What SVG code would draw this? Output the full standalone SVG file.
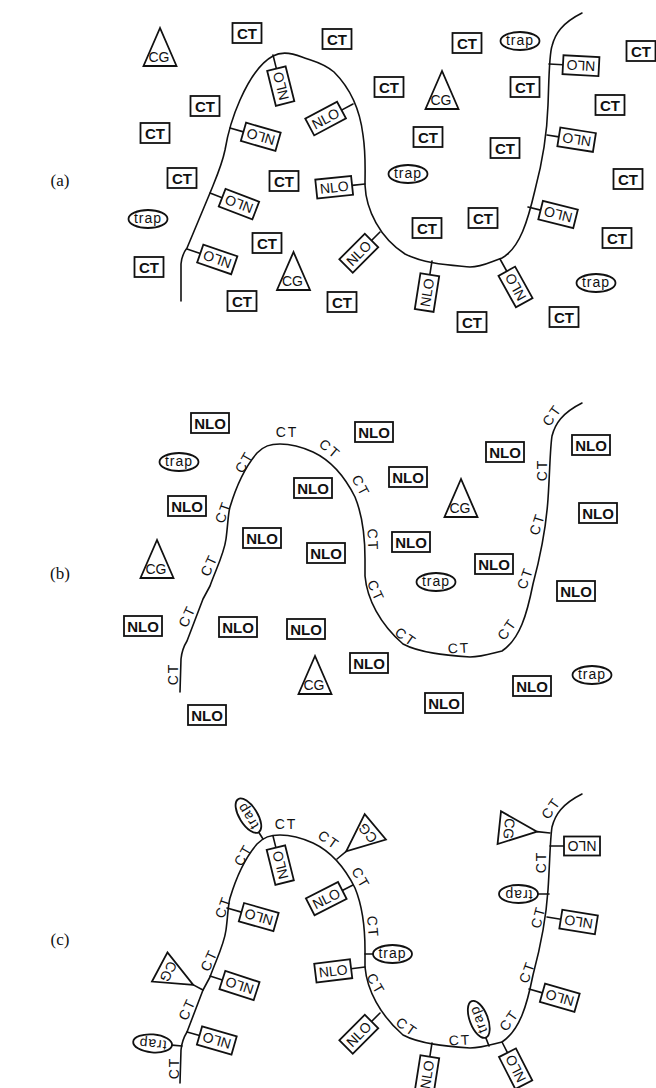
<svg xmlns="http://www.w3.org/2000/svg" width="656" height="1088" viewBox="0 0 656 1088">
<style>
.ln{fill:none;stroke:#111;stroke-width:1.6;stroke-linecap:round;stroke-linejoin:round}
.bx{fill:#fff;stroke:#111;stroke-width:1.8}
text{font-family:"Liberation Sans",Arial,sans-serif;text-anchor:middle;fill:#111}
.b15{font-size:15px;font-weight:bold}
.r14{font-size:14px}
.tr{font-size:14px;letter-spacing:1px}
.cl{font-size:14px;letter-spacing:2px}
.lb{font-family:"Liberation Serif","Times New Roman",serif;font-size:17px}
</style>
<defs>
<path id="chainA" d="M181,301 L181,264 Q182,254 187,248 L210,193 C216,178 222,165 225,150 C228,132 232,118 240,100 C248,82 258,64 273,56 C282,51 292,53 302,57 C312,61 322,62 334,72 C350,88 360,110 363,135 C366,155 365,170 365,185 C366,210 380,238 405,254 C425,264 450,265 470,267 C482,267 490,262 502,258 C520,248 528,220 535,190 C543,160 547,135 548,105 C549,80 549,55 552,46 C555,34 562,23 582,13"/>
<path id="chainC" d="M180,1083 L181,1050 Q182,1040 187,1032 L203,990 L210,977 C216,960 224,945 226,930 C228,915 228,905 230,898 C236,878 245,858 257,844 C264,837 270,835 280,835 C292,835 302,838 313,843 C330,851 345,868 355,888 C362,905 365,925 365,950 L365,967 C367,990 380,1015 403,1035 C420,1044 445,1046 470,1048 C482,1048 490,1045 502,1042 C520,1030 527,1005 533,975 C541,945 546,920 548,890 C550,860 550,840 552,827 C555,815 562,804 582,794"/>
</defs>
<rect width="656" height="1088" fill="#fff"/>

<g id="panel-labels">
<text class="lb" x="60" y="186">(a)</text>
<text class="lb" x="60" y="579">(b)</text>
<text class="lb" x="60" y="945">(c)</text>
</g>

<g id="connectors">
<use href="#chainA" class="ln"/>
<use href="#chainC" class="ln" transform="translate(0,-391)"/>
<use href="#chainC" class="ln"/>
<!-- stems (a) -->
<line class="ln" transform="translate(273,55) rotate(76)" x2="14"/>
<line class="ln" transform="translate(353,104) rotate(152)" x2="13"/>
<line class="ln" transform="translate(230,128) rotate(16)" x2="14"/>
<line class="ln" transform="translate(549,64) rotate(3)" x2="14"/>
<line class="ln" transform="translate(547,135) rotate(9)" x2="12"/>
<line class="ln" transform="translate(365,184) rotate(174)" x2="13"/>
<line class="ln" transform="translate(210,193) rotate(21)" x2="13"/>
<line class="ln" transform="translate(187,249) rotate(19)" x2="14"/>
<line class="ln" transform="translate(380,232) rotate(135)" x2="12"/>
<line class="ln" transform="translate(528,207) rotate(14)" x2="13"/>
<line class="ln" transform="translate(432,261) rotate(99)" x2="14"/>
<line class="ln" transform="translate(500,259) rotate(61)" x2="14"/>
<!-- stems (c) -->
<line class="ln" transform="translate(550,846) rotate(0)" x2="14"/>
<line class="ln" transform="translate(273,836) rotate(76)" x2="12"/>
<line class="ln" transform="translate(353,885) rotate(153)" x2="12"/>
<line class="ln" transform="translate(227,908) rotate(16)" x2="15"/>
<line class="ln" transform="translate(547,917) rotate(9)" x2="14"/>
<line class="ln" transform="translate(365,967) rotate(173)" x2="14"/>
<line class="ln" transform="translate(210,976) rotate(18)" x2="13"/>
<line class="ln" transform="translate(529,989) rotate(16)" x2="14"/>
<line class="ln" transform="translate(380,1013) rotate(135)" x2="12"/>
<line class="ln" transform="translate(187,1032) rotate(16)" x2="13"/>
<line class="ln" transform="translate(432,1043) rotate(99)" x2="14"/>
<line class="ln" transform="translate(502,1042) rotate(63)" x2="12"/>
<line class="ln" transform="translate(263,839) rotate(-122)" x2="8"/>
<line class="ln" transform="translate(489,1046) rotate(-111)" x2="9"/>
<line class="ln" transform="translate(549,894) rotate(180)" x2="11"/>
<line class="ln" transform="translate(365,954) rotate(0)" x2="8"/>
<line class="ln" transform="translate(182,1046) rotate(185)" x2="10"/>
<line class="ln" transform="translate(550,833) rotate(186)" x2="13"/>
<line class="ln" transform="translate(337,859) rotate(-40)" x2="12"/>
<line class="ln" transform="translate(203,990) rotate(208)" x2="11"/>
</g>

<!-- ===== panel (a) ===== -->
<g id="a-ct1" transform="translate(247,33)"><rect class="bx" x="-14.5" y="-10" width="29" height="20"/><text class="b15" y="5.5">CT</text></g>
<g id="a-ct2" transform="translate(337,39)"><rect class="bx" x="-14.5" y="-10" width="29" height="20"/><text class="b15" y="5.5">CT</text></g>
<g id="a-ct3" transform="translate(467,43)"><rect class="bx" x="-14.5" y="-10" width="29" height="20"/><text class="b15" y="5.5">CT</text></g>
<g id="a-ct4" transform="translate(641,51)"><rect class="bx" x="-14.5" y="-10" width="29" height="20"/><text class="b15" y="5.5">CT</text></g>
<g id="a-ct5" transform="translate(389,87)"><rect class="bx" x="-14.5" y="-10" width="29" height="20"/><text class="b15" y="5.5">CT</text></g>
<g id="a-ct6" transform="translate(525,87)"><rect class="bx" x="-14.5" y="-10" width="29" height="20"/><text class="b15" y="5.5">CT</text></g>
<g id="a-ct7" transform="translate(205,106)"><rect class="bx" x="-14.5" y="-10" width="29" height="20"/><text class="b15" y="5.5">CT</text></g>
<g id="a-ct8" transform="translate(610,105)"><rect class="bx" x="-14.5" y="-10" width="29" height="20"/><text class="b15" y="5.5">CT</text></g>
<g id="a-ct9" transform="translate(155,133)"><rect class="bx" x="-14.5" y="-10" width="29" height="20"/><text class="b15" y="5.5">CT</text></g>
<g id="a-ct10" transform="translate(428,137)"><rect class="bx" x="-14.5" y="-10" width="29" height="20"/><text class="b15" y="5.5">CT</text></g>
<g id="a-ct11" transform="translate(505,148)"><rect class="bx" x="-14.5" y="-10" width="29" height="20"/><text class="b15" y="5.5">CT</text></g>
<g id="a-ct12" transform="translate(182,178)"><rect class="bx" x="-14.5" y="-10" width="29" height="20"/><text class="b15" y="5.5">CT</text></g>
<g id="a-ct13" transform="translate(284,181)"><rect class="bx" x="-14.5" y="-10" width="29" height="20"/><text class="b15" y="5.5">CT</text></g>
<g id="a-ct14" transform="translate(628,179)"><rect class="bx" x="-14.5" y="-10" width="29" height="20"/><text class="b15" y="5.5">CT</text></g>
<g id="a-ct15" transform="translate(483,218)"><rect class="bx" x="-14.5" y="-10" width="29" height="20"/><text class="b15" y="5.5">CT</text></g>
<g id="a-ct16" transform="translate(427,228)"><rect class="bx" x="-14.5" y="-10" width="29" height="20"/><text class="b15" y="5.5">CT</text></g>
<g id="a-ct17" transform="translate(617,238)"><rect class="bx" x="-14.5" y="-10" width="29" height="20"/><text class="b15" y="5.5">CT</text></g>
<g id="a-ct18" transform="translate(267,243)"><rect class="bx" x="-14.5" y="-10" width="29" height="20"/><text class="b15" y="5.5">CT</text></g>
<g id="a-ct19" transform="translate(149,267)"><rect class="bx" x="-14.5" y="-10" width="29" height="20"/><text class="b15" y="5.5">CT</text></g>
<g id="a-ct20" transform="translate(242,301)"><rect class="bx" x="-14.5" y="-10" width="29" height="20"/><text class="b15" y="5.5">CT</text></g>
<g id="a-ct21" transform="translate(342,302)"><rect class="bx" x="-14.5" y="-10" width="29" height="20"/><text class="b15" y="5.5">CT</text></g>
<g id="a-ct22" transform="translate(564,317)"><rect class="bx" x="-14.5" y="-10" width="29" height="20"/><text class="b15" y="5.5">CT</text></g>
<g id="a-ct23" transform="translate(472,322)"><rect class="bx" x="-14.5" y="-10" width="29" height="20"/><text class="b15" y="5.5">CT</text></g>

<g id="a-trap1" transform="translate(520,41)"><ellipse class="bx" rx="19.5" ry="9"/><text class="tr" y="4">trap</text></g>
<g id="a-trap2" transform="translate(408,174)"><ellipse class="bx" rx="19.5" ry="9"/><text class="tr" y="4">trap</text></g>
<g id="a-trap3" transform="translate(148,219)"><ellipse class="bx" rx="19.5" ry="9"/><text class="tr" y="4">trap</text></g>
<g id="a-trap4" transform="translate(596,283)"><ellipse class="bx" rx="19.5" ry="9"/><text class="tr" y="4">trap</text></g>

<g id="a-cg1" transform="translate(160,66)"><polygon class="bx" points="0,-38 -16.5,0 16.5,0"/><text class="r14" x="-1" y="-4">CG</text></g>
<g id="a-cg2" transform="translate(442,109)"><polygon class="bx" points="0,-38 -16.5,0 16.5,0"/><text class="r14" x="-1" y="-4">CG</text></g>
<g id="a-cg3" transform="translate(293.5,290)"><polygon class="bx" points="0,-38 -16.5,0 16.5,0"/><text class="r14" x="-1" y="-4">CG</text></g>

<g id="a-nlo1" transform="translate(273,55) rotate(76)"><rect class="bx" x="14" y="-9.5" width="36" height="19"/><text class="r14" transform="translate(32,0) rotate(180)" y="5">NLO</text></g>
<g id="a-nlo2" transform="translate(353,104) rotate(152)"><rect class="bx" x="13" y="-9.5" width="36" height="19"/><text class="r14" transform="translate(31,0) rotate(180)" y="5">NLO</text></g>
<g id="a-nlo3" transform="translate(230,128) rotate(16)"><rect class="bx" x="14" y="-9.5" width="36" height="19"/><text class="r14" transform="translate(32,0) rotate(180)" y="5">NLO</text></g>
<g id="a-nlo4" transform="translate(549,64) rotate(3)"><rect class="bx" x="14" y="-9.5" width="36" height="19"/><text class="r14" transform="translate(32,0) rotate(180)" y="5">NLO</text></g>
<g id="a-nlo5" transform="translate(547,135) rotate(9)"><rect class="bx" x="12" y="-9.5" width="36" height="19"/><text class="r14" transform="translate(30,0) rotate(180)" y="5">NLO</text></g>
<g id="a-nlo6" transform="translate(365,184) rotate(174)"><rect class="bx" x="13" y="-9.5" width="36" height="19"/><text class="r14" transform="translate(31,0) rotate(180)" y="5">NLO</text></g>
<g id="a-nlo7" transform="translate(210,193) rotate(21)"><rect class="bx" x="13" y="-9.5" width="36" height="19"/><text class="r14" transform="translate(31,0) rotate(180)" y="5">NLO</text></g>
<g id="a-nlo8" transform="translate(187,249) rotate(19)"><rect class="bx" x="14" y="-9.5" width="36" height="19"/><text class="r14" transform="translate(32,0) rotate(180)" y="5">NLO</text></g>
<g id="a-nlo9" transform="translate(380,232) rotate(135)"><rect class="bx" x="12" y="-9.5" width="36" height="19"/><text class="r14" transform="translate(30,0) rotate(180)" y="5">NLO</text></g>
<g id="a-nlo10" transform="translate(528,207) rotate(14)"><rect class="bx" x="13" y="-9.5" width="36" height="19"/><text class="r14" transform="translate(31,0) rotate(180)" y="5">NLO</text></g>
<g id="a-nlo11" transform="translate(432,261) rotate(99)"><rect class="bx" x="14" y="-9.5" width="36" height="19"/><text class="r14" transform="translate(32,0) rotate(180)" y="5">NLO</text></g>
<g id="a-nlo12" transform="translate(500,259) rotate(61)"><rect class="bx" x="14" y="-9.5" width="36" height="19"/><text class="r14" transform="translate(32,0) rotate(180)" y="5">NLO</text></g>

<!-- ===== panel (b) ===== -->
<g id="b-nlo1" transform="translate(210,423)"><rect class="bx" x="-19" y="-10" width="38" height="20"/><text class="b15" y="5.5">NLO</text></g>
<g id="b-nlo2" transform="translate(374,432)"><rect class="bx" x="-19" y="-10" width="38" height="20"/><text class="b15" y="5.5">NLO</text></g>
<g id="b-nlo3" transform="translate(591,445)"><rect class="bx" x="-19" y="-10" width="38" height="20"/><text class="b15" y="5.5">NLO</text></g>
<g id="b-nlo4" transform="translate(505,452)"><rect class="bx" x="-19" y="-10" width="38" height="20"/><text class="b15" y="5.5">NLO</text></g>
<g id="b-nlo5" transform="translate(408,477)"><rect class="bx" x="-19" y="-10" width="38" height="20"/><text class="b15" y="5.5">NLO</text></g>
<g id="b-nlo6" transform="translate(313,488)"><rect class="bx" x="-19" y="-10" width="38" height="20"/><text class="b15" y="5.5">NLO</text></g>
<g id="b-nlo7" transform="translate(187,506)"><rect class="bx" x="-19" y="-10" width="38" height="20"/><text class="b15" y="5.5">NLO</text></g>
<g id="b-nlo8" transform="translate(598,513)"><rect class="bx" x="-19" y="-10" width="38" height="20"/><text class="b15" y="5.5">NLO</text></g>
<g id="b-nlo9" transform="translate(262,538)"><rect class="bx" x="-19" y="-10" width="38" height="20"/><text class="b15" y="5.5">NLO</text></g>
<g id="b-nlo10" transform="translate(411,542)"><rect class="bx" x="-19" y="-10" width="38" height="20"/><text class="b15" y="5.5">NLO</text></g>
<g id="b-nlo11" transform="translate(326,553)"><rect class="bx" x="-19" y="-10" width="38" height="20"/><text class="b15" y="5.5">NLO</text></g>
<g id="b-nlo12" transform="translate(494,564)"><rect class="bx" x="-19" y="-10" width="38" height="20"/><text class="b15" y="5.5">NLO</text></g>
<g id="b-nlo13" transform="translate(576,591)"><rect class="bx" x="-19" y="-10" width="38" height="20"/><text class="b15" y="5.5">NLO</text></g>
<g id="b-nlo14" transform="translate(143,626)"><rect class="bx" x="-19" y="-10" width="38" height="20"/><text class="b15" y="5.5">NLO</text></g>
<g id="b-nlo15" transform="translate(238,627)"><rect class="bx" x="-19" y="-10" width="38" height="20"/><text class="b15" y="5.5">NLO</text></g>
<g id="b-nlo16" transform="translate(306,629)"><rect class="bx" x="-19" y="-10" width="38" height="20"/><text class="b15" y="5.5">NLO</text></g>
<g id="b-nlo17" transform="translate(369,663)"><rect class="bx" x="-19" y="-10" width="38" height="20"/><text class="b15" y="5.5">NLO</text></g>
<g id="b-nlo18" transform="translate(532,686)"><rect class="bx" x="-19" y="-10" width="38" height="20"/><text class="b15" y="5.5">NLO</text></g>
<g id="b-nlo19" transform="translate(444,703)"><rect class="bx" x="-19" y="-10" width="38" height="20"/><text class="b15" y="5.5">NLO</text></g>
<g id="b-nlo20" transform="translate(207,715)"><rect class="bx" x="-19" y="-10" width="38" height="20"/><text class="b15" y="5.5">NLO</text></g>

<g id="b-trap1" transform="translate(179,462)"><ellipse class="bx" rx="19.5" ry="9"/><text class="tr" y="4">trap</text></g>
<g id="b-trap2" transform="translate(436,582)"><ellipse class="bx" rx="19.5" ry="9"/><text class="tr" y="4">trap</text></g>
<g id="b-trap3" transform="translate(592,675)"><ellipse class="bx" rx="19.5" ry="9"/><text class="tr" y="4">trap</text></g>

<g id="b-cg1" transform="translate(461,517)"><polygon class="bx" points="0,-38 -16.5,0 16.5,0"/><text class="r14" x="-1" y="-4">CG</text></g>
<g id="b-cg2" transform="translate(157,578)"><polygon class="bx" points="0,-38 -16.5,0 16.5,0"/><text class="r14" x="-1" y="-4">CG</text></g>
<g id="b-cg3" transform="translate(315,694)"><polygon class="bx" points="0,-38 -16.5,0 16.5,0"/><text class="r14" x="-1" y="-4">CG</text></g>

<g id="b-ct-labels">
<text class="cl" transform="translate(287,432) rotate(0)" y="5">CT</text>
<text class="cl" transform="translate(330,449) rotate(40)" y="5">CT</text>
<text class="cl" transform="translate(361,486) rotate(62)" y="5">CT</text>
<text class="cl" transform="translate(373,540) rotate(88)" y="5">CT</text>
<text class="cl" transform="translate(376,591) rotate(65)" y="5">CT</text>
<text class="cl" transform="translate(406,637) rotate(35)" y="5">CT</text>
<text class="cl" transform="translate(459,648) rotate(-3)" y="5">CT</text>
<text class="cl" transform="translate(507,629) rotate(-55)" y="5">CT</text>
<text class="cl" transform="translate(525,578) rotate(-70)" y="5">CT</text>
<text class="cl" transform="translate(537,524) rotate(-72)" y="5">CT</text>
<text class="cl" transform="translate(542,470) rotate(-90)" y="5">CT</text>
<text class="cl" transform="translate(552,415) rotate(-55)" y="5">CT</text>
<text class="cl" transform="translate(244,462) rotate(-60)" y="5">CT</text>
<text class="cl" transform="translate(223,512) rotate(-70)" y="5">CT</text>
<text class="cl" transform="translate(209,565) rotate(-65)" y="5">CT</text>
<text class="cl" transform="translate(187,616) rotate(-65)" y="5">CT</text>
<text class="cl" transform="translate(173,674) rotate(-90)" y="5">CT</text>
</g>

<!-- ===== panel (c) ===== -->
<g id="c-ct-labels">
<text class="cl" transform="translate(286,824) rotate(0)" y="5">CT</text>
<text class="cl" transform="translate(329,840) rotate(35)" y="5">CT</text>
<text class="cl" transform="translate(361,878) rotate(60)" y="5">CT</text>
<text class="cl" transform="translate(373,927) rotate(85)" y="5">CT</text>
<text class="cl" transform="translate(376,984) rotate(60)" y="5">CT</text>
<text class="cl" transform="translate(407,1027) rotate(35)" y="5">CT</text>
<text class="cl" transform="translate(460,1040) rotate(-3)" y="5">CT</text>
<text class="cl" transform="translate(509,1020) rotate(-55)" y="5">CT</text>
<text class="cl" transform="translate(527,972) rotate(-70)" y="5">CT</text>
<text class="cl" transform="translate(538,917) rotate(-75)" y="5">CT</text>
<text class="cl" transform="translate(541,862) rotate(-90)" y="5">CT</text>
<text class="cl" transform="translate(551,808) rotate(-55)" y="5">CT</text>
<text class="cl" transform="translate(243,855) rotate(-60)" y="5">CT</text>
<text class="cl" transform="translate(223,907) rotate(-70)" y="5">CT</text>
<text class="cl" transform="translate(209,960) rotate(-65)" y="5">CT</text>
<text class="cl" transform="translate(187,1009) rotate(-65)" y="5">CT</text>
<text class="cl" transform="translate(174,1068) rotate(-90)" y="5">CT</text>
</g>

<g id="c-nlo1" transform="translate(550,846) rotate(0)"><rect class="bx" x="14" y="-9.5" width="36" height="19"/><text class="r14" transform="translate(32,0) rotate(180)" y="5">NLO</text></g>
<g id="c-nlo2" transform="translate(273,836) rotate(76)"><rect class="bx" x="12" y="-9.5" width="36" height="19"/><text class="r14" transform="translate(30,0) rotate(180)" y="5">NLO</text></g>
<g id="c-nlo3" transform="translate(353,885) rotate(153)"><rect class="bx" x="12" y="-9.5" width="36" height="19"/><text class="r14" transform="translate(30,0) rotate(180)" y="5">NLO</text></g>
<g id="c-nlo4" transform="translate(227,908) rotate(16)"><rect class="bx" x="15" y="-9.5" width="36" height="19"/><text class="r14" transform="translate(33,0) rotate(180)" y="5">NLO</text></g>
<g id="c-nlo5" transform="translate(547,917) rotate(9)"><rect class="bx" x="14" y="-9.5" width="36" height="19"/><text class="r14" transform="translate(32,0) rotate(180)" y="5">NLO</text></g>
<g id="c-nlo6" transform="translate(365,967) rotate(173)"><rect class="bx" x="14" y="-9.5" width="36" height="19"/><text class="r14" transform="translate(32,0) rotate(180)" y="5">NLO</text></g>
<g id="c-nlo7" transform="translate(210,976) rotate(18)"><rect class="bx" x="13" y="-9.5" width="36" height="19"/><text class="r14" transform="translate(31,0) rotate(180)" y="5">NLO</text></g>
<g id="c-nlo8" transform="translate(529,989) rotate(16)"><rect class="bx" x="14" y="-9.5" width="36" height="19"/><text class="r14" transform="translate(32,0) rotate(180)" y="5">NLO</text></g>
<g id="c-nlo9" transform="translate(380,1013) rotate(135)"><rect class="bx" x="12" y="-9.5" width="36" height="19"/><text class="r14" transform="translate(30,0) rotate(180)" y="5">NLO</text></g>
<g id="c-nlo10" transform="translate(187,1032) rotate(16)"><rect class="bx" x="13" y="-9.5" width="36" height="19"/><text class="r14" transform="translate(31,0) rotate(180)" y="5">NLO</text></g>
<g id="c-nlo11" transform="translate(432,1043) rotate(99)"><rect class="bx" x="14" y="-9.5" width="36" height="19"/><text class="r14" transform="translate(32,0) rotate(180)" y="5">NLO</text></g>
<g id="c-nlo12" transform="translate(502,1042) rotate(63)"><rect class="bx" x="12" y="-9.5" width="36" height="19"/><text class="r14" transform="translate(30,0) rotate(180)" y="5">NLO</text></g>

<g id="c-trap1" transform="translate(263,839) rotate(-122)"><ellipse class="bx" cx="27.5" rx="19.5" ry="9"/><text class="tr" x="27.5" y="4">trap</text></g>
<g id="c-trap2" transform="translate(489,1046) rotate(-111)"><ellipse class="bx" cx="28.5" rx="19.5" ry="9"/><text class="tr" x="28.5" y="4">trap</text></g>
<g id="c-trap3" transform="translate(549,894) rotate(180)"><ellipse class="bx" cx="30.5" rx="19.5" ry="9"/><text class="tr" x="30.5" y="4">trap</text></g>
<g id="c-trap4" transform="translate(365,954) rotate(0)"><ellipse class="bx" cx="27.5" rx="19.5" ry="9"/><text class="tr" x="27.5" y="4">trap</text></g>
<g id="c-trap5" transform="translate(182,1046) rotate(185)"><ellipse class="bx" cx="29.5" rx="19.5" ry="9"/><text class="tr" x="29.5" y="4">trap</text></g>

<g id="c-cg1" transform="translate(550,833) rotate(186)"><polygon class="bx" points="13,0 51,-16.5 51,16.5"/><text class="r14" transform="translate(41,0) rotate(-90)" y="5">CG</text></g>
<g id="c-cg2" transform="translate(337,859) rotate(-40)"><polygon class="bx" points="12,0 50,-16.5 50,16.5"/><text class="r14" transform="translate(40,0) rotate(-90)" y="5">CG</text></g>
<g id="c-cg3" transform="translate(203,990) rotate(208)"><polygon class="bx" points="11,0 49,-16.5 49,16.5"/><text class="r14" transform="translate(39,0) rotate(-90)" y="5">CG</text></g>
</svg>
